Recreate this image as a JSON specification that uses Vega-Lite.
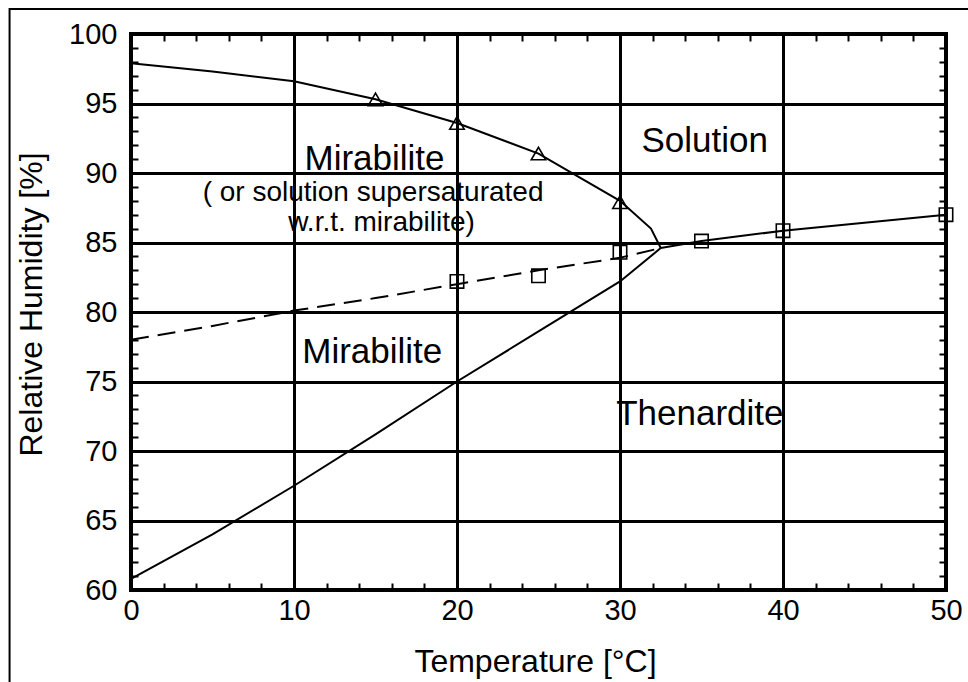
{
  "$schema": "https://vega.github.io/schema/vega-lite/v6.json",
  "width": 815,
  "height": 556,
  "autosize": {"type": "none"},
  "padding": {"left": 131, "top": 34, "right": 22, "bottom": 92},
  "background": "white",
  "config": {
    "view": {"stroke": "black", "strokeWidth": 4},
    "font": "Liberation Sans",
    "text": {"font": "Liberation Sans", "color": "black"}
  },
  "datasets": {
    "curves": [
      {"series": "upper", "T": 0, "RH": 97.9},
      {"series": "upper", "T": 5, "RH": 97.3},
      {"series": "upper", "T": 10, "RH": 96.6},
      {"series": "upper", "T": 15, "RH": 95.3},
      {"series": "upper", "T": 20, "RH": 93.6},
      {"series": "upper", "T": 25, "RH": 91.4},
      {"series": "upper", "T": 30, "RH": 88.0},
      {"series": "upper", "T": 31.9, "RH": 86.0},
      {"series": "upper", "T": 32.5, "RH": 84.6},
      {"series": "lower", "T": 0, "RH": 60.8},
      {"series": "lower", "T": 5, "RH": 64.0},
      {"series": "lower", "T": 10, "RH": 67.5},
      {"series": "lower", "T": 15, "RH": 71.2},
      {"series": "lower", "T": 20, "RH": 75.0},
      {"series": "lower", "T": 25, "RH": 78.6},
      {"series": "lower", "T": 30, "RH": 82.2},
      {"series": "lower", "T": 32.5, "RH": 84.6},
      {"series": "right", "T": 32.5, "RH": 84.6},
      {"series": "right", "T": 35, "RH": 85.1},
      {"series": "right", "T": 40, "RH": 85.85},
      {"series": "right", "T": 50, "RH": 87.0},
      {"series": "dashed", "T": 0, "RH": 78.0},
      {"series": "dashed", "T": 5, "RH": 79.0},
      {"series": "dashed", "T": 10, "RH": 80.1},
      {"series": "dashed", "T": 15, "RH": 81.0},
      {"series": "dashed", "T": 20, "RH": 82.0},
      {"series": "dashed", "T": 25, "RH": 83.0},
      {"series": "dashed", "T": 30, "RH": 83.9},
      {"series": "dashed", "T": 32.5, "RH": 84.6}
    ],
    "triangles": [
      {"T": 15, "RH": 95.3},
      {"T": 20, "RH": 93.6},
      {"T": 25, "RH": 91.4},
      {"T": 30, "RH": 87.9}
    ],
    "squares": [
      {"T": 20, "RH": 82.2},
      {"T": 25, "RH": 82.6},
      {"T": 30, "RH": 84.3},
      {"T": 35, "RH": 85.1},
      {"T": 40, "RH": 85.85},
      {"T": 50, "RH": 87.0}
    ],
    "bigLabels": [
      {"label": "Mirabilite", "T": 14.94, "RH": 90.2},
      {"label": "Solution", "T": 35.2, "RH": 91.5},
      {"label": "Mirabilite", "T": 14.8, "RH": 76.3},
      {"label": "Thenardite", "T": 34.9, "RH": 71.9}
    ],
    "smallLabels": [
      {"label": "( or solution supersaturated", "T": 14.85, "RH": 88.0},
      {"label": "w.r.t. mirabilite)", "T": 15.37, "RH": 85.8}
    ],
    "frame": [
      {"x0": -7.45, "x1": 80, "y0": 101.8, "y1": 40}
    ]
  },
  "layer": [
    {
      "layer": [
        {
          "data": {"name": "frame"},
          "mark": {"type": "rect", "fill": null, "fillOpacity": 0, "stroke": "black", "strokeWidth": 2, "clip": false},
          "encoding": {
            "x": {"field": "x0", "type": "quantitative"},
            "x2": {"field": "x1"},
            "y": {"field": "y0", "type": "quantitative"},
            "y2": {"field": "y1"}
          }
        },
        {
          "data": {"name": "curves"},
          "transform": [{"filter": "datum.series !== 'dashed'"}],
          "mark": {"type": "line", "color": "black", "strokeWidth": 2},
          "encoding": {
            "x": {
              "field": "T", "type": "quantitative",
              "scale": {"domain": [0, 50], "nice": false},
              "axis": {
                "orient": "bottom",
                "title": "Temperature [°C]",
                "values": [0,2,4,6,8,10,12,14,16,18,20,22,24,26,28,30,32,34,36,38,40,42,44,46,48,50],
                "tickCount": 1000,
                "format": "d",
                "labelExpr": "datum.value % 10 === 0 ? datum.label : ''",
                "grid": true,
                "gridColor": "black",
                "gridWidth": 3,
                "gridOpacity": {"condition": {"test": "datum.value % 10 === 0", "value": 1}, "value": 0},
                "domain": false,
                "ticks": true,
                "tickSize": -7,
                "tickWidth": 2,
                "tickColor": "black",
                "labelFont": "Liberation Sans",
                "labelFontSize": 29,
                "labelColor": "black",
                "labelPadding": 13,
                "labelFlush": false,
                "labelOverlap": false,
                "titleFont": "Liberation Sans",
                "titleFontSize": 32,
                "titleFontWeight": "normal",
                "titleColor": "black",
                "titlePadding": 21,
                "titleX": 404
              }
            },
            "y": {
              "field": "RH", "type": "quantitative",
              "scale": {"domain": [60, 100], "nice": false, "zero": false},
              "axis": {
                "orient": "left",
                "title": "Relative Humidity [%]",
                "values": [60,61,62,63,64,65,66,67,68,69,70,71,72,73,74,75,76,77,78,79,80,81,82,83,84,85,86,87,88,89,90,91,92,93,94,95,96,97,98,99,100],
                "tickCount": 1000,
                "format": "d",
                "labelExpr": "datum.value % 5 === 0 ? datum.label : ''",
                "grid": true,
                "gridColor": "black",
                "gridWidth": 3,
                "gridOpacity": {"condition": {"test": "datum.value % 5 === 0", "value": 1}, "value": 0},
                "domain": false,
                "ticks": true,
                "tickSize": -7,
                "tickWidth": 2,
                "tickColor": "black",
                "labelFont": "Liberation Sans",
                "labelFontSize": 29,
                "labelColor": "black",
                "labelPadding": 21,
                "labelFlush": false,
                "labelOverlap": false,
                "labelBaseline": "middle",
                "titleFont": "Liberation Sans",
                "titleFontSize": 32,
                "titleFontWeight": "normal",
                "titleColor": "black",
                "titlePadding": 20,
                "titleY": 270
              }
            },
            "detail": {"field": "series"}
          }
        },
        {
          "data": {"name": "curves"},
          "transform": [{"filter": "datum.series === 'dashed'"}],
          "mark": {"type": "line", "color": "black", "strokeWidth": 2, "strokeDash": [18, 9]},
          "encoding": {
            "x": {"field": "T", "type": "quantitative"},
            "y": {"field": "RH", "type": "quantitative"}
          }
        },
        {
          "data": {"name": "triangles"},
          "mark": {"type": "point", "shape": "triangle-up", "filled": false, "stroke": "black", "strokeWidth": 1.6, "size": 210, "opacity": 1},
          "encoding": {
            "x": {"field": "T", "type": "quantitative"},
            "y": {"field": "RH", "type": "quantitative"}
          }
        },
        {
          "data": {"name": "squares"},
          "mark": {"type": "point", "shape": "square", "filled": false, "stroke": "black", "strokeWidth": 1.6, "size": 180, "opacity": 1},
          "encoding": {
            "x": {"field": "T", "type": "quantitative"},
            "y": {"field": "RH", "type": "quantitative"}
          }
        },
        {
          "data": {"name": "bigLabels"},
          "mark": {"type": "text", "fontSize": 35, "align": "center", "baseline": "alphabetic", "color": "black", "font": "Liberation Sans"},
          "encoding": {
            "x": {"field": "T", "type": "quantitative"},
            "y": {"field": "RH", "type": "quantitative"},
            "text": {"field": "label"}
          }
        },
        {
          "data": {"name": "smallLabels"},
          "mark": {"type": "text", "fontSize": 28, "align": "center", "baseline": "alphabetic", "color": "black", "font": "Liberation Sans"},
          "encoding": {
            "x": {"field": "T", "type": "quantitative"},
            "y": {"field": "RH", "type": "quantitative"},
            "text": {"field": "label"}
          }
        }
      ]
    },
    {
      "data": {"name": "squares"},
      "mark": {"type": "point", "opacity": 0},
      "encoding": {
        "x": {
          "field": "T", "type": "quantitative",
          "axis": {
            "orient": "top", "title": null, "labels": false, "grid": false, "domain": false,
            "values": [0,2,4,6,8,10,12,14,16,18,20,22,24,26,28,30,32,34,36,38,40,42,44,46,48,50],
            "tickCount": 1000,
            "tickSize": -7, "tickWidth": 2, "tickColor": "black"
          }
        },
        "y": {
          "field": "RH", "type": "quantitative",
          "axis": {
            "orient": "right", "title": null, "labels": false, "grid": false, "domain": false,
            "values": [60,61,62,63,64,65,66,67,68,69,70,71,72,73,74,75,76,77,78,79,80,81,82,83,84,85,86,87,88,89,90,91,92,93,94,95,96,97,98,99,100],
            "tickCount": 1000,
            "tickSize": -7, "tickWidth": 2, "tickColor": "black"
          }
        }
      }
    }
  ],
  "resolve": {"axis": {"x": "independent", "y": "independent"}}
}
